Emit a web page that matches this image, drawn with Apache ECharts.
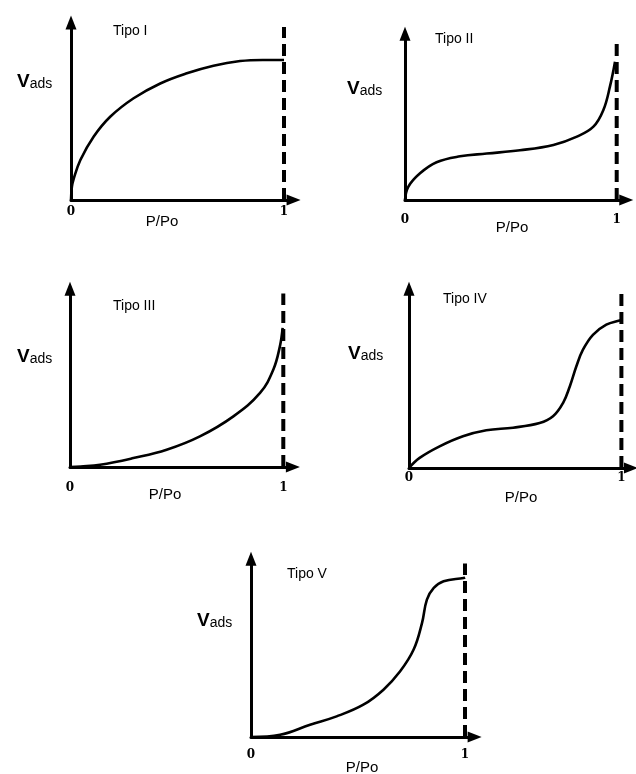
<!DOCTYPE html>
<html>
<head>
<meta charset="utf-8">
<script src="https://cdn.jsdelivr.net/npm/echarts@6/dist/echarts.min.js"></script>
<style>
  html, body { margin: 0; padding: 0; background: #fff; }
  #chart { width: 636px; height: 774px; }
</style>
</head>
<body>
<div id="chart"></div>
<script>
// isotherm shapes, x = P/Po, y = relative adsorbed volume
const tipoI = [[0, 0], [0.004, 0.07], [0.011, 0.108], [0.044, 0.216], [0.106, 0.342], [0.184, 0.45],
  [0.294, 0.55], [0.419, 0.63], [0.544, 0.685], [0.669, 0.726], [0.794, 0.751], [0.9, 0.757], [1, 0.757]];
const tipoII = [[0, 0], [0.016, 0.077], [0.071, 0.154], [0.149, 0.218], [0.26, 0.252], [0.386, 0.268],
  [0.543, 0.287], [0.701, 0.318], [0.812, 0.366], [0.89, 0.423], [0.937, 0.519], [0.968, 0.654], [0.992, 0.798]];
const tipoIII = [[0, 0], [0.05, 0.003], [0.141, 0.012], [0.297, 0.048], [0.453, 0.093], [0.609, 0.165],
  [0.766, 0.273], [0.891, 0.399], [0.953, 0.524], [0.984, 0.65], [0.997, 0.749]];
const tipoIV = [[0, 0], [0.05, 0.054], [0.144, 0.116], [0.254, 0.17], [0.364, 0.202], [0.49, 0.216],
  [0.615, 0.241], [0.678, 0.277], [0.725, 0.348], [0.757, 0.437], [0.788, 0.545], [0.819, 0.634],
  [0.866, 0.714], [0.929, 0.768], [0.992, 0.791], [1, 0.793]];
const tipoV = [[0, 0], [0.136, 0.012], [0.276, 0.066], [0.4, 0.111], [0.525, 0.174], [0.619, 0.255],
  [0.697, 0.354], [0.76, 0.471], [0.799, 0.614], [0.822, 0.74], [0.854, 0.803], [0.9, 0.839], [0.994, 0.857], [1, 0.86]];
const dashLine = [[1, 0], [1, 0.935]];
const titles = ["Tipo I", "Tipo II", "Tipo III", "Tipo IV", "Tipo V"];
const xTicks = ["0", "1"];

const curves = [tipoI, tipoII, tipoIII, tipoIV, tipoV];

// panel geometry: origin x, axis y, px per unit in x / y, x label margin, text spots
const panels = [
  { x0: 71, y0: 200, ux: 213, uy: 185, lm: 6, title: [113, 32], vads: [17, 83], pp: [162, 222] },
  { x0: 405, y0: 200, ux: 211.7, uy: 173.3, lm: 14, title: [435, 40], vads: [347, 90], pp: [512, 228] },
  { x0: 70, y0: 467, ux: 213.3, uy: 185.6, lm: 15, title: [113, 307], vads: [17, 358], pp: [165, 495] },
  { x0: 409, y0: 468, ux: 212.4, uy: 186.6, lm: 4, title: [443, 300], vads: [348, 355], pp: [521, 498] },
  { x0: 251, y0: 737, ux: 214, uy: 185.6, lm: 12, title: [287, 575], vads: [197, 622], pp: [362, 768] }
];
const X_MAX = 1.045;
const Y_MAX = 0.96;

const chart = echarts.init(document.getElementById("chart"));

const grid = [], xAxis = [], yAxis = [], series = [], graphic = [];
const axisLine = {
  show: true,
  symbol: ["none", "triangle"],
  symbolSize: [11, 14],
  lineStyle: { color: "#000", width: 3 }
};

panels.forEach((p, i) => {
  grid.push({ left: p.x0, top: p.y0 - p.uy * Y_MAX, width: p.ux * X_MAX, height: p.uy * Y_MAX });
  xAxis.push({
    gridIndex: i, type: "value", min: 0, max: X_MAX, interval: 1,
    axisLine: axisLine, axisTick: { show: false }, splitLine: { show: false },
    axisLabel: {
      margin: p.lm, color: "#000", fontFamily: "DejaVu Serif", fontWeight: "bold", fontSize: 12,
      showMaxLabel: false,
      formatter: v => (v === 0 ? xTicks[0] : v === 1 ? xTicks[1] : "")
    }
  });
  yAxis.push({
    gridIndex: i, type: "value", min: 0, max: Y_MAX,
    axisLine: axisLine, axisTick: { show: false }, splitLine: { show: false },
    axisLabel: { show: false }
  });
  series.push({
    type: "line", xAxisIndex: i, yAxisIndex: i, data: curves[i], smooth: 0.4,
    showSymbol: false, lineStyle: { color: "#000", width: 2.6 }, z: 3
  });
  series.push({
    type: "line", xAxisIndex: i, yAxisIndex: i, data: dashLine,
    showSymbol: false, lineStyle: { color: "#000", width: 4, type: [12, 6] }, z: 2
  });
  graphic.push({
    type: "text", left: p.title[0], top: p.title[1] - 8,
    style: { text: titles[i], font: "14px 'Liberation Sans'", fill: "#000" }
  });
  graphic.push({
    type: "text", left: p.vads[0], top: p.vads[1] - 11,
    style: {
      text: "{v|V}{a|ads}",
      rich: {
        v: { font: "bold 19px 'Liberation Sans'", fill: "#000", verticalAlign: "bottom" },
        a: { font: "14px 'Liberation Sans'", fill: "#000", verticalAlign: "bottom" }
      }
    }
  });
  graphic.push({
    type: "text", x: p.pp[0], y: p.pp[1],
    style: { text: "P/Po", font: "15px 'Liberation Sans'", fill: "#000", align: "center", verticalAlign: "middle" }
  });
});

chart.setOption({
  animation: false,
  backgroundColor: "#fff",
  grid, xAxis, yAxis, series, graphic
});
</script>
</body>
</html>
